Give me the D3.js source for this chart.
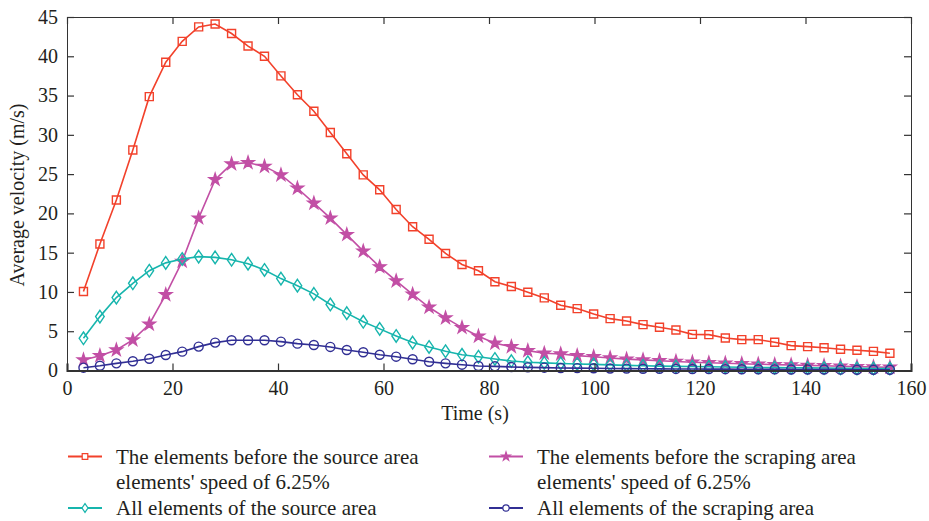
<!DOCTYPE html>
<html>
<head>
<meta charset="utf-8">
<script src="https://d3js.org/d3.v7.min.js"></script>
<style>
  body { margin: 0; background: #fff; }
  text { font-family: "Liberation Serif", "DejaVu Serif", serif; fill: #231f20; }
</style>
</head>
<body>
<script>
// time stamps (s)
var times = [3.12, 6.24, 9.36, 12.48, 15.6, 18.72, 21.84, 24.96, 28.08, 31.2,
  34.32, 37.44, 40.56, 43.68, 46.8, 49.92, 53.04, 56.16, 59.28, 62.4,
  65.52, 68.64, 71.76, 74.88, 78, 81.12, 84.24, 87.36, 90.48, 93.6,
  96.72, 99.84, 102.96, 106.08, 109.2, 112.32, 115.44, 118.56, 121.68, 124.8,
  127.92, 131.04, 134.16, 137.28, 140.4, 143.52, 146.64, 149.76, 152.88, 156];

var sourceBefore = [10.05, 16.1, 21.7, 28.06, 34.86, 39.24, 41.9, 43.74, 44.1, 42.9,
  41.3, 40.0, 37.5, 35.1, 33.0, 30.3, 27.6, 24.9, 23.0, 20.5,
  18.3, 16.7, 14.9, 13.5, 12.7, 11.3, 10.7, 9.97, 9.24, 8.3,
  7.88, 7.2, 6.6, 6.3, 5.84, 5.5, 5.16, 4.6, 4.57, 4.14,
  3.93, 3.93, 3.59, 3.17, 3.04, 2.9, 2.7, 2.57, 2.44, 2.19];

var scrapingBefore = [1.34, 1.89, 2.61, 3.89, 5.89, 9.66, 13.9, 19.4, 24.3, 26.3,
  26.45, 25.98, 24.9, 23.2, 21.3, 19.4, 17.3, 15.2, 13.2, 11.4,
  9.7, 8.05, 6.7, 5.46, 4.36, 3.47, 3.03, 2.53, 2.19, 2.1,
  1.89, 1.76, 1.6, 1.45, 1.35, 1.25, 1.15, 1.05, 0.98, 0.92,
  0.86, 0.8, 0.75, 0.7, 0.65, 0.6, 0.55, 0.5, 0.45, 0.42];

var sourceAll = [4.1, 6.86, 9.28, 11.1, 12.7, 13.7, 14.2, 14.5, 14.4, 14.1,
  13.6, 12.8, 11.7, 10.8, 9.75, 8.4, 7.3, 6.2, 5.3, 4.4,
  3.55, 3.0, 2.45, 2.0, 1.76, 1.47, 1.2, 1.05, 0.97, 0.9,
  0.83, 0.78, 0.72, 0.65, 0.6, 0.56, 0.52, 0.5, 0.47, 0.44,
  0.41, 0.39, 0.37, 0.35, 0.33, 0.31, 0.29, 0.27, 0.26, 0.25];

var scrapingAll = [0.36, 0.61, 0.91, 1.17, 1.5, 1.97, 2.4, 3.04, 3.55, 3.85,
  3.85, 3.85, 3.67, 3.42, 3.25, 3.0, 2.61, 2.32, 2.01, 1.76,
  1.43, 1.12, 0.91, 0.74, 0.57, 0.53, 0.45, 0.4, 0.36, 0.32,
  0.3, 0.28, 0.26, 0.24, 0.22, 0.21, 0.2, 0.19, 0.18, 0.17,
  0.16, 0.15, 0.14, 0.13, 0.12, 0.12, 0.11, 0.1, 0.1, 0.1];

var xTicks = [0, 20, 40, 60, 80, 100, 120, 140, 160];
var yTicks = [0, 5, 10, 15, 20, 25, 30, 35, 40, 45];

var seriesNames = [
  ["The elements before the source area", "elements' speed of 6.25%"],
  ["The elements before the scraping area", "elements' speed of 6.25%"],
  ["All elements of the source area"],
  ["All elements of the scraping area"]
];

var w = 929, h = 521;
var margin = {top: 17, right: 18, bottom: 150.5, left: 67};
var width = w - margin.left - margin.right,
    height = h - margin.top - margin.bottom;

var x = d3.scaleLinear().domain([0, 160]).range([0, width]);
var y = d3.scaleLinear().domain([0, 45]).range([height, 0]);

var series = [
  {values: sourceBefore, color: "#f2412b", marker: "square"},
  {values: scrapingBefore, color: "#c24fa5", marker: "star"},
  {values: sourceAll, color: "#17b5ad", marker: "diamond"},
  {values: scrapingAll, color: "#312f94", marker: "circle"}
];

// marker shapes
function markerPath(type, s) {
  if (type == "square") return d3.symbol(d3.symbolSquare, 64 * s * s)();
  if (type == "star") return d3.symbol(d3.symbolStar, 46 * s * s)();
  if (type == "diamond") {
    var a = 4.3 * s, b = 6.3 * s;
    return "M0," + (-b) + "L" + a + ",0L0," + b + "L" + (-a) + ",0Z";
  }
  return d3.symbol(d3.symbolCircle, 64 * s * s)();
}

var svg = d3.select("body").append("svg")
    .attr("width", w)
    .attr("height", h);

var g = svg.append("g")
    .attr("transform", "translate(" + margin.left + "," + margin.top + ")");

var line = d3.line()
    .x(function(d) { return x(d[0]); })
    .y(function(d) { return y(d[1]); });

series.forEach(function(s) {
  var pts = times.map(function(t, i) { return [t, s.values[i]]; });
  g.append("path")
    .datum(pts)
    .attr("fill", "none")
    .attr("stroke", s.color)
    .attr("stroke-width", 1.6)
    .attr("d", line);

  g.selectAll(null)
    .data(pts)
    .enter().append("path")
    .attr("transform", function(d) { return "translate(" + x(d[0]) + "," + y(d[1]) + ")"; })
    .attr("d", markerPath(s.marker, 1))
    .attr("fill", s.marker == "star" ? s.color : "none")
    .attr("stroke", s.color)
    .attr("stroke-width", 1.4);
});

// axes box with inner ticks
var tickLen = 7;
g.append("g")
  .attr("transform", "translate(0," + height + ")")
  .call(d3.axisBottom(x).tickValues(xTicks).tickSize(-tickLen).tickPadding(10))
  .call(function(a) { a.select(".domain").attr("stroke-width", 2); });

g.append("g")
  .call(d3.axisTop(x).tickValues(xTicks).tickSize(-tickLen).tickFormat(""));

g.append("g")
  .call(d3.axisLeft(y).tickValues(yTicks).tickSize(-tickLen).tickPadding(9));

g.append("g")
  .attr("transform", "translate(" + width + ",0)")
  .call(d3.axisRight(y).tickValues(yTicks).tickSize(-tickLen).tickFormat(""));

g.selectAll(".domain").attr("stroke", "#333");
g.selectAll(".tick line").attr("stroke", "#333").attr("stroke-width", 1.2);
g.selectAll(".tick text")
  .attr("fill", "#231f20")
  .style("font-family", "'Liberation Serif', serif")
  .style("font-size", "20px");

// axis titles
svg.append("text")
  .attr("x", margin.left + width / 2 - 14)
  .attr("y", 420)
  .attr("text-anchor", "middle")
  .style("font-size", "20px")
  .text("Time (s)");

svg.append("text")
  .attr("transform", "translate(24,195) rotate(-90)")
  .attr("text-anchor", "middle")
  .style("font-size", "20px")
  .text("Average velocity (m/s)");

// legend
var legendPos = [
  {x: 68, y: 456.5},
  {x: 489, y: 456.5},
  {x: 68, y: 508},
  {x: 489, y: 508}
];

series.forEach(function(s, i) {
  var p = legendPos[i];
  var lg = svg.append("g").attr("transform", "translate(" + p.x + "," + p.y + ")");
  lg.append("line")
    .attr("x1", 0).attr("x2", 34)
    .attr("stroke", s.color)
    .attr("stroke-width", 2);
  lg.append("path")
    .attr("transform", "translate(17,0)")
    .attr("d", markerPath(s.marker, 0.7))
    .attr("fill", s.marker == "star" ? s.color : "#fff")
    .attr("stroke", s.color)
    .attr("stroke-width", 1.2);
  seriesNames[i].forEach(function(t, j) {
    lg.append("text")
      .attr("x", 48)
      .attr("y", j * 25.5)
      .attr("dy", "0.35em")
      .style("font-size", "21px")
      .text(t);
  });
});
</script>
</body>
</html>
